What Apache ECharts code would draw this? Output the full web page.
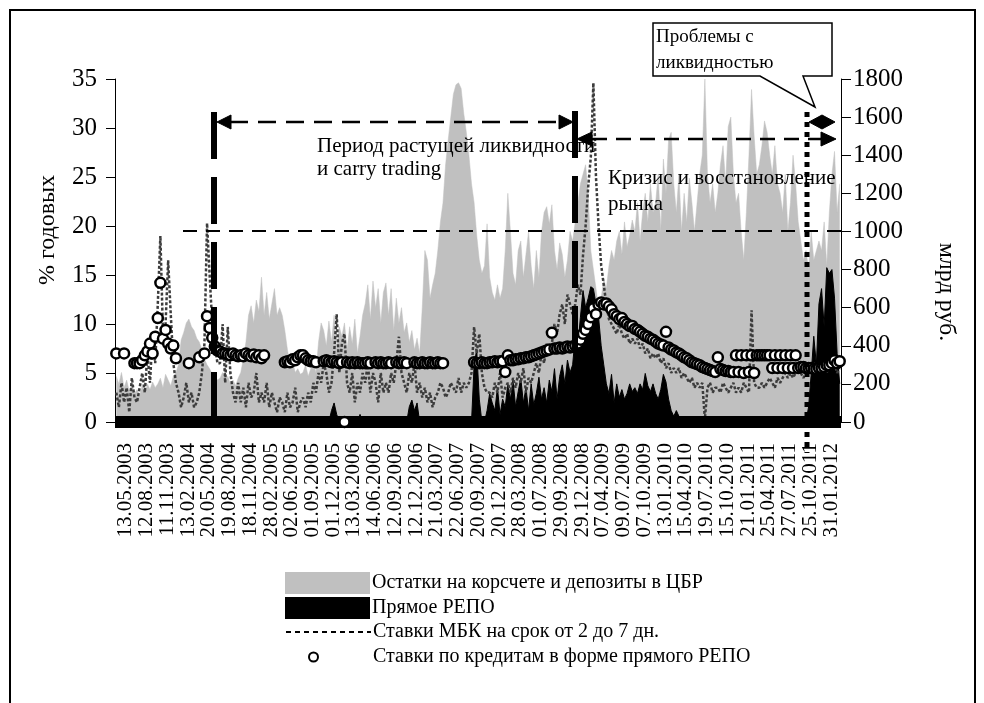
<!DOCTYPE html>
<html><head><meta charset="utf-8">
<script src="https://cdn.jsdelivr.net/npm/echarts@6.0.0/dist/echarts.min.js"></script>
<style>html,body{margin:0;padding:0;background:#fff}#c{width:984px;height:703px}</style>
</head><body><div id="c"></div>
<script>
// ---- tick labels (every 8th point) ----
const tickLabels = ['13.05.2003','12.08.2003','11.11.2003','13.02.2004','20.05.2004','19.08.2004','18.11.2004','28.02.2005','02.06.2005','01.09.2005','01.12.2005','13.03.2006','14.06.2006','12.09.2006','12.12.2006','21.03.2007','22.06.2007','20.09.2007','20.12.2007','28.03.2008','01.07.2008','29.09.2008','29.12.2008','07.04.2009','09.07.2009','07.10.2009','13.01.2010','15.04.2010','19.07.2010','15.10.2010','21.01.2011','25.04.2011','27.07.2011','25.10.2011','31.01.2012'];
const PER_TICK = 8;

// ---- Остатки на корсчете и депозиты в ЦБР, млрд руб. ----
const balances = [
240,200,260,180,220,160,200,150, 170,140,190,150,200,170,210,180, 200,230,180,250,220,190,240,260,
300,430,470,520,540,500,480,440, 420,380,330,300,280,250,240,220, 230,260,210,240,200,220,190,230,
260,330,420,560,610,520,640,580, 760,560,680,540,620,700,560,600, 560,480,380,300,320,260,280,250,
260,300,240,280,310,260,420,520, 480,400,530,420,560,380,500,450, 520,380,500,410,540,360,450,560,
620,720,540,740,600,700,520,680, 730,560,700,480,650,520,600,470, 520,420,480,380,440,360,600,900,
850,650,720,780,900,1050,1150,1350, 1480,1600,1720,1770,1780,1750,1620,1520, 1400,1250,1150,980,850,780,820,1040,
760,680,640,720,650,700,900,1200, 1000,780,720,900,950,760,880,1000, 820,700,900,760,1000,1100,1130,1040,
1140,900,800,940,880,760,850,1000, 950,1050,1150,1250,1300,1350,1200,900, 800,700,600,650,750,700,820,900,
850,950,1000,880,1050,920,980,1060, 1000,1150,950,1100,1200,1050,1250,1100, 1150,1300,1000,1380,1200,1480,1520,1250,
1100,1300,1000,1200,1050,1280,1150,1000, 1150,1300,1400,1800,1300,1150,1250,1100, 1200,1350,1450,1250,1550,1600,1300,1150,
1200,1000,850,1100,1400,1745,1500,1300, 1350,1450,1580,1520,1400,1300,1450,1250, 1200,1100,1300,1000,1150,1400,1250,1050,
950,850,900,800,1000,850,900,950, 900,1050,820,1100,1300,1420,1100,1250
];

// ---- Прямое РЕПО, млрд руб. ----
const repo = [
0,0,0,0,0,0,0,0, 0,0,0,0,0,0,0,0, 0,0,0,0,0,0,0,0, 0,0,0,0,0,0,0,0, 0,0,0,0,0,0,0,0,
0,0,0,0,0,0,0,0, 0,0,0,0,0,0,0,0, 0,0,0,0,0,0,0,0, 0,0,0,0,0,0,0,0, 0,0,0,0,0,0,0,0,
0,0,0,60,100,40,0,0, 0,0,0,0,0,0,40,0, 0,0,0,0,0,0,0,0, 0,0,0,0,0,0,0,0, 0,80,115,60,100,0,0,0,
0,0,0,0,0,0,0,0, 0,0,0,0,0,0,0,0, 0,0,300,380,120,0,0,60, 150,100,60,180,40,120,80,200,
120,220,80,160,230,100,180,60, 200,90,150,235,120,180,100,220, 160,280,120,240,300,200,325,260,
300,450,400,550,690,600,650,710, 700,620,550,400,300,200,150,250, 100,200,130,170,120,150,200,160,
180,150,200,170,255,190,160,200, 150,120,170,250,210,120,60,30, 60,30,20,10,0,0,0,0,
0,0,0,0,0,0,0,0, 0,0,0,0,0,0,0,0, 0,0,0,0,0,0,0,0, 0,0,0,0,0,0,0,0, 0,0,0,0,0,0,0,0,
0,0,0,80,250,450,300,620, 700,500,810,780,800,650,360,200
];

// ---- Ставки МБК на срок от 2 до 7 дн., % годовых ----
const mbkRate = [
3,1.5,4,2,3.5,1,4.5,2.5, 2,3.5,5,3,7,4,9,6, 12,19,9,10,16.5,11,6,4, 3,1.5,2.5,4,2,3,1.5,2,
3,5,8,20.3,15,10,8,6, 6,10,4,9.7,5,3,2,4, 2,3.5,1.5,4,2.5,3,5,2, 3,2,4,1.5,3,2,1,2.5,
2,1,3,1.5,2,3.5,1,2, 2.5,1.5,3,2,4,3,5,4, 6,5,3,4,7,11,5,8, 9,4,3,5,2,4,3,5,
4,6,3,5,4,2,5,3, 4,3,5,4,6,8.7,5,4, 3,5,4,6,3,4,2.5,3.5, 2,3,1.5,2.5,3,4,3.5,2.5,
3,4,3.5,3,4.5,3,4,3.5, 4,5,9.7,7,9,5,3.5,3, 3,2.5,4,3,5,2.5,3.5,4, 3,4.5,3.5,5,4,5.5,3,4.5,
4,5,6,5,7,6,8,7, 8,10,9,11,12,10,13,12, 11,12,14,13,17,20,24,27, 34.6,25,20,16,14,12,10.5,10,
9.5,9,10,9,8.5,9,8,8.5, 8,8.5,7.5,8,7,7.5,6.5,7, 6.5,7,6,6.5,5.5,6,5,5.5, 5,5.5,4.5,5,4.5,4,4.5,3.5,
4,3.5,4,0.3,3.5,4,3,3.5, 3.5,3,4,3.5,3,3.5,4,3, 3.5,3,4,3.5,3,11.4,4,3.5, 3.5,4,3.5,4,4.5,4,3.5,4.5,
4,4.5,5,4.5,5,4.5,5,5.5, 5,4.5,5,5.5,5,6,5.5,5, 5.5,6,5,6.5,5.5,6,5,5.5
];

// ---- Ставки по кредитам в форме прямого РЕПО, % годовых (null = нет данных) ----
const repoRate = [
7.0,null,null,7.0,null,null,null,6.0, 6.0,6.0,6.3,6.8,7.2,8.0,7.0,8.7, 10.6,14.2,8.5,9.4,8.0,7.5,7.8,6.5,
null,null,null,null,6.0,null,null,null, 6.6,null,7.0,10.8,9.6,8.6,7.7,7.3, 7.2,7.0,7.0,6.9,6.8,7.0,6.8,6.7,
6.8,6.7,7.0,6.8,6.7,6.9,6.6,6.8, 6.5,6.8,null,null,null,null,null,null, null,6.1,6.2,6.1,6.4,6.3,6.6,6.8,
6.8,6.5,6.3,6.2,6.2,6.1,null,null, 6.2,6.3,6.2,6.1,6.2,6.1,6.0,6.1, 0,6.1,6.0,6.1,6.0,6.1,6.0,6.0,
6.0,6.1,6.0,null,6.1,6.0,6.1,6.0, 6.0,6.1,6.0,null,6.1,6.0,6.0,6.1, 6.0,null,null,6.1,6.0,6.0,6.1,6.0,
6.0,6.1,6.0,6.0,6.1,6.0,6.0,null, null,null,null,null,null,null,null,null, null,null,6.1,6.0,6.0,6.1,6.0,6.0,
6.1,6.1,6.2,6.1,6.2,6.2,5.1,6.8, 6.3,6.3,6.4,6.4,6.5,6.5,6.6,6.6, 6.7,6.8,6.9,7.0,7.1,7.2,7.3,7.4,
9.1,7.5,7.5,7.6,7.5,7.6,7.7,7.6, 7.7,7.8,8.0,8.4,9.0,9.4,10.0,10.7, 11.6,11.0,12.0,12.2,12.0,12.1,11.8,11.5,
11.0,10.8,10.5,10.6,10.2,10.0,9.8,9.8, 9.5,9.4,9.2,9.0,8.8,8.7,8.5,8.4, 8.2,8.0,7.9,7.8,9.2,7.6,7.4,7.3,
7.1,7.0,6.8,6.6,6.5,6.3,6.1,6.0, 5.9,5.8,5.6,5.5,5.4,5.3,5.2,5.1, 6.6,5.4,5.3,5.2,5.2,5.1,5.1,6.8,
5.1,6.8,5.0,6.8,5.1,6.8,5.0,6.8, 6.8,6.8,6.8,6.8,6.8,5.5,6.8,5.5, 6.8,5.5,6.8,5.5,6.8,5.5,6.8,5.5,
5.6,5.6,5.5,5.5,5.5,5.4,5.4,5.5, 5.5,5.6,5.8,5.8,6.0,6.3,6.0,6.2
];

const S1 = 'Остатки на корсчете и депозиты в ЦБР';
const S2 = 'Прямое РЕПО';
const S3 = 'Ставки МБК на срок от 2 до 7 дн.';
const S4 = 'Ставки по кредитам в форме прямого РЕПО';

const categories = balances.map((_, i) => {
  const t = tickLabels[Math.floor(i / PER_TICK)];
  return i % PER_TICK === 0 ? t : t + '+' + (i % PER_TICK);
});
const scatterData = repoRate.map((v, i) => v == null ? null : [i, v]).filter(Boolean);

const FF = '"Liberation Serif","Times New Roman",serif';
const chart = echarts.init(document.getElementById('c'), null, {renderer: 'canvas'});

const txt = (t, x, y, size, extra) => Object.assign({
  type: 'text', x, y, z: 20, silent: true,
  style: {text: t, font: size + 'px ' + FF, fill: '#000', align: 'left', textAlign: 'left', verticalAlign: 'middle', textVerticalAlign: 'middle'}
}, extra || {});
const ln = (x1, y1, x2, y2, w, dash) => ({
  type: 'line', z: 30, silent: true, shape: {x1, y1, x2, y2},
  style: {stroke: '#000', lineWidth: w, lineDash: dash || null}
});
const poly = (pts, fill) => ({type: 'polygon', z: 31, silent: true, shape: {points: pts}, style: {fill: fill || '#000', stroke: '#000', lineWidth: 1}});

chart.setOption({
  animation: false,
  backgroundColor: '#fff',
  grid: {left: 115, right: 143, top: 79, bottom: 281, containLabel: false},
  xAxis: {
    type: 'category', data: categories, boundaryGap: true,
    axisLine: {show: true, lineStyle: {color: '#000', width: 1}},
    axisTick: {show: false},
    axisLabel: {
      interval: 0, rotate: 90, margin: 21, verticalAlign: 'top', lineHeight: 19,
      hideOverlap: false,
      fontFamily: FF, fontSize: 21, color: '#000',
      formatter: (v, i) => (i % PER_TICK === 0 ? tickLabels[i / PER_TICK] : '')
    },
    splitLine: {show: false}
  },
  yAxis: [
    {type: 'value', min: 0, max: 35, interval: 5, position: 'left',
     axisLine: {show: true, lineStyle: {color: '#000', width: 1}},
     axisTick: {show: true, length: 9, lineStyle: {color: '#000'}},
     axisLabel: {fontFamily: FF, fontSize: 25, color: '#000', margin: 18, formatter: v => String(v)},
     splitLine: {show: false}},
    {type: 'value', min: 0, max: 1800, interval: 200, position: 'right',
     axisLine: {show: true, lineStyle: {color: '#000', width: 1}},
     axisTick: {show: true, length: 10, lineStyle: {color: '#000'}},
     axisLabel: {fontFamily: FF, fontSize: 25, color: '#000', margin: 12, formatter: v => String(v)},
     splitLine: {show: false}}
  ],
  legend: [
    {left: 285, top: 572, padding: 0, itemWidth: 85, itemHeight: 22, selectedMode: false,
     data: [{name: S1, icon: 'rect'}], textStyle: {fontFamily: FF, fontSize: 20, color: '#000', padding: [0, 0, 0, -3]}},
    {left: 285, top: 597, padding: 0, itemWidth: 85, itemHeight: 22, selectedMode: false,
     data: [{name: S2, icon: 'rect'}], textStyle: {fontFamily: FF, fontSize: 20, color: '#000', padding: [0, 0, 0, -3]}},
    {left: 285, top: 622, padding: 0, itemWidth: 85, itemHeight: 22, selectedMode: false,
     lineStyle: {type: [5, 4], width: 2, color: '#000'},
     itemStyle: {color: 'rgba(0,0,0,0)', borderWidth: 0, opacity: 0},
     data: [{name: S3}], textStyle: {fontFamily: FF, fontSize: 20, color: '#000', padding: [0, 0, 0, -3]}},
    {left: 308, top: 647, padding: 0, itemWidth: 9, itemHeight: 9, selectedMode: false,
     itemStyle: {color: '#fff', borderColor: '#000', borderWidth: 2},
     data: [{name: S4, icon: 'circle'}], textStyle: {fontFamily: FF, fontSize: 20, color: '#000', padding: [0, 0, 0, 50]}}
  ],
  series: [
    {name: S1, type: 'line', yAxisIndex: 1, data: balances, symbol: 'none', z: 2,
     color: '#c0c0c0', lineStyle: {width: 0.5, color: '#c0c0c0'}, areaStyle: {color: '#c0c0c0', opacity: 1}},
    {name: S2, type: 'line', yAxisIndex: 1, data: repo, symbol: 'none', z: 3,
     color: '#000', lineStyle: {width: 1, color: '#000'}, areaStyle: {color: '#000', opacity: 1},
     markLine: {silent: true, symbol: 'none', label: {show: false}, animation: false,
                lineStyle: {color: '#000', width: 12, type: 'solid'}, data: [{yAxis: 0}]}},
    {name: S3, type: 'line', yAxisIndex: 0, data: mbkRate, symbol: 'none', showSymbol: false, z: 4,
     color: '#3c3c3c', lineStyle: {width: 2.5, color: '#3c3c3c', type: [3, 2]}},
    {name: S4, type: 'scatter', yAxisIndex: 0, data: scatterData, z: 5,
     symbol: 'circle', symbolSize: 10, itemStyle: {color: '#fff', borderColor: '#000', borderWidth: 2.5, opacity: 1}}
  ],
  graphic: [
    {type: 'rect', z: 50, silent: true, shape: {x: 10, y: 10, width: 965, height: 720}, style: {fill: 'none', stroke: '#000', lineWidth: 2}},
    txt('% годовых', 48, 230, 24, {rotation: Math.PI / 2, style: {text: '% годовых', font: '24px ' + FF, fill: '#000', align: 'center', textAlign: 'center', verticalAlign: 'middle', textVerticalAlign: 'middle'}}),
    txt('млрд руб.', 946, 292, 24, {rotation: -Math.PI / 2, style: {text: 'млрд руб.', font: '24px ' + FF, fill: '#000', align: 'center', textAlign: 'center', verticalAlign: 'middle', textVerticalAlign: 'middle'}}),
    txt('Период растущей ликвидности', 317, 146, 21),
    txt('и carry trading', 317, 169, 21),
    txt('Кризис и восстановление', 608, 178, 21),
    txt('рынка', 608, 204, 21),
    ln(183, 231, 841, 231, 2, [14, 9]),
    ln(214, 112, 214, 422, 6, [47, 18]),
    ln(575, 111, 575, 422, 6, [47, 18]),
    ln(230, 122, 560, 122, 2.5, [18, 10]),
    poly([[217, 122], [231, 115], [231, 129]]),
    poly([[573, 122], [559, 115], [559, 129]]),
    ln(592, 139, 821, 139, 2.5, [15, 9]),
    poly([[577, 139], [592, 132], [592, 146]]),
    poly([[836, 139], [821, 132], [821, 146]]),
    ln(807, 112, 807, 453, 5, [5, 5]),
    poly([[809, 122], [822, 115], [835, 122], [822, 129]]),
    {type: 'polygon', z: 40, silent: true,
     shape: {points: [[653, 23], [832, 23], [832, 76], [803, 76], [815, 107], [760, 76], [653, 76]]},
     style: {fill: '#fff', stroke: '#000', lineWidth: 1.5}},
    txt('Проблемы с', 656, 37, 19, {z: 41}),
    txt('ликвидностью', 656, 63, 19, {z: 41})
  ]
});
</script></body></html>
